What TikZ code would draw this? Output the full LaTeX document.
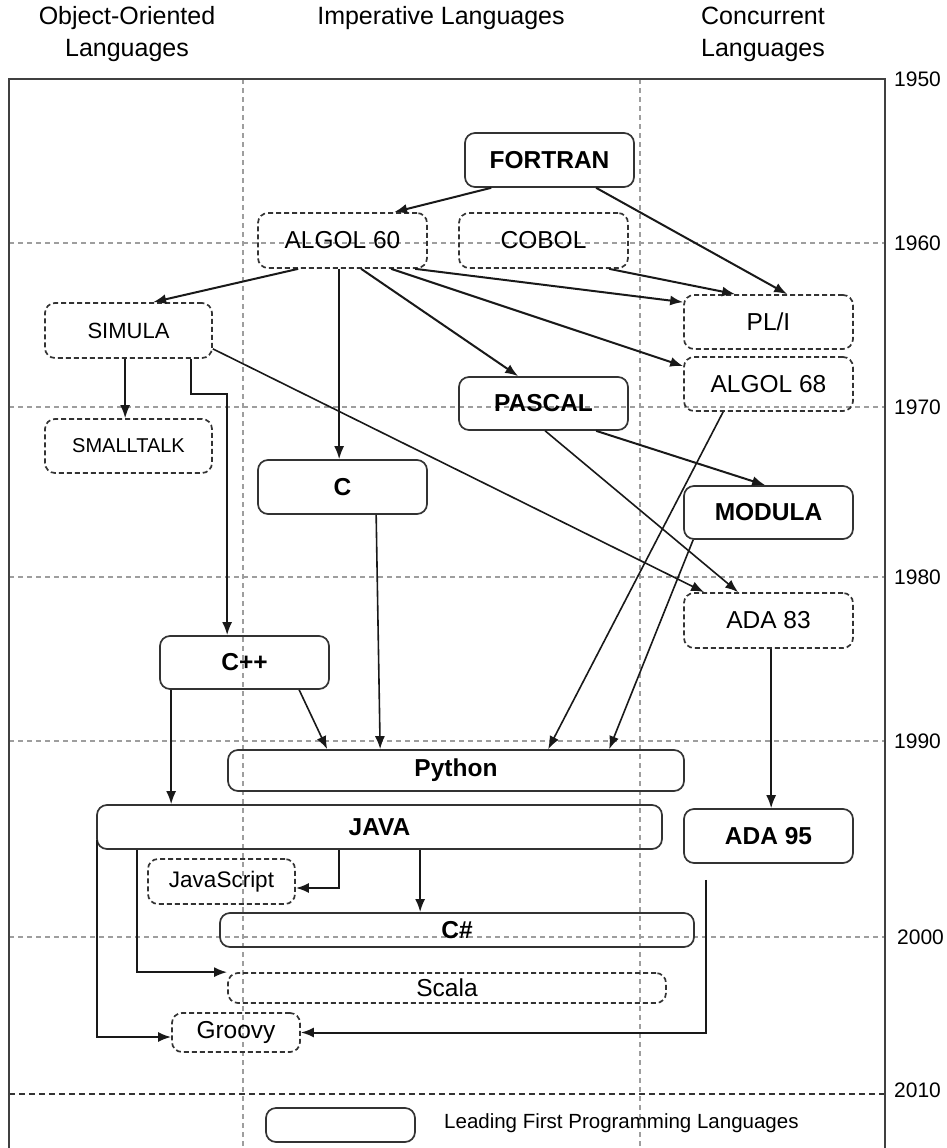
\documentclass[tikz,border=0pt]{standalone}
\usepackage{fontspec}
\setmainfont{Liberation Sans}
\usetikzlibrary{arrows.meta}
\begin{document}
\begin{tikzpicture}[x=1pt,y=-1pt,
  gridline/.style={draw=black!38, line width=1.5pt, dash pattern=on 5pt off 4pt},
  box/.style={rounded corners=10pt, draw=black!80, line width=1.7pt, inner sep=0pt},
  solidbox/.style={box, font=\bfseries\fontsize{24.5}{28}\selectfont},
  dashbox/.style={box, dash pattern=on 5pt off 3pt, font=\fontsize{24.5}{28}\selectfont},
  sz/.style 2 args={minimum width=#1pt, minimum height=#2pt},
  arr/.style={draw=black!90, line width=2pt, -{Latex[length=13pt,width=10pt]}},
  tarr/.style={draw=black!90, line width=1.6pt, -{Latex[length=13pt,width=10pt]}},
  title/.style={align=center, font=\fontsize{25}{32}\selectfont, inner sep=0pt},
  year/.style={anchor=west, font=\fontsize{21}{24}\selectfont, inner sep=0pt}]
\useasboundingbox (0,0) rectangle (946,1148);

% grid
\foreach \yy in {243,407,577,741,937} \draw[gridline] (9,\yy) -- (885,\yy);
\draw[gridline] (243,79) -- (243,1148);
\draw[gridline] (640,79) -- (640,1148);
\draw[draw=black!80, line width=1.7pt, dash pattern=on 6pt off 4pt] (9,1094) -- (885,1094);
\draw[draw=black!75, line width=1.7pt] (9,1148) -- (9,79) -- (885,79) -- (885,1148);

% titles
\node[title] (t1) at (127,34) {Object-Oriented\\Languages};
\node[title] (t2) at (441,18) {Imperative Languages};
\node[title] (t3) at (763,34) {Concurrent\\Languages};

% years
\node[year] (y1950) at (894,79) {1950};
\node[year] (y1960) at (894,243) {1960};
\node[year] (y1970) at (894,407) {1970};
\node[year] (y1980) at (894,577) {1980};
\node[year] (y1990) at (894,741) {1990};
\node[year] (y2000) at (897,937) {2000};
\node[year] (y2010) at (894,1090) {2010};

% languages
\node[solidbox, sz={169}{54}] (fortran) at (549.5,160) {FORTRAN};
\node[dashbox, sz={169}{55}] (algol60) at (342.5,240.5) {ALGOL 60};
\node[dashbox, sz={169}{55}] (cobol) at (543.5,240.5) {COBOL};
\node[dashbox, sz={167}{55}, font=\fontsize{22}{26}\selectfont] (simula) at (128.5,330.5) {SIMULA};
\node[dashbox, sz={169}{54}] (pli) at (768.5,322) {PL/I};
\node[dashbox, sz={169}{54}] (algol68) at (768.5,384) {ALGOL 68};
\node[solidbox, sz={169}{53}] (pascal) at (543.5,403.5) {PASCAL};
\node[dashbox, sz={167}{54}, font=\fontsize{20}{24}\selectfont] (smalltalk) at (128.5,446) {SMALLTALK};
\node[solidbox, sz={169}{54}] (c) at (342.5,487) {C};
\node[solidbox, sz={169}{53}] (modula) at (768.5,512.5) {MODULA};
\node[dashbox, sz={169}{55}] (ada83) at (768.5,620.5) {ADA 83};
\node[solidbox, sz={169}{53}] (cpp) at (244.5,662.5) {C++};
\node[solidbox, sz={456}{41}] (python) at (456,770.5) {Python};
\node[solidbox, sz={565}{44}] (java) at (379.5,827) {JAVA};
\node[solidbox, sz={169}{54}] (ada95) at (768.5,836) {ADA 95};
\node[dashbox, sz={147}{45}, font=\fontsize{22.5}{26}\selectfont] (js) at (221.5,881.5) {JavaScript};
\node[solidbox, sz={474}{34}] (csharp) at (457,930) {C\#};
\node[dashbox, sz={438}{30}] (scala) at (447,988) {Scala};
\node[dashbox, sz={128}{39}] (groovy) at (236,1032.5) {Groovy};

% legend
\node[solidbox, sz={149}{34}] (legbox) at (340.5,1125) {};
\node[anchor=west, inner sep=0pt, font=\fontsize{20.5}{24}\selectfont] (legtext) at (444,1123) {Leading First Programming Languages};

% connectors
\draw[arr] ([xshift=27pt]fortran.south west) -- ([xshift=137pt]algol60.north west);
\draw[arr] ([xshift=132pt]fortran.south west) -- ([xshift=104pt]pli.north west);
\draw[arr] ([xshift=151pt]cobol.south west) -- ([xshift=52pt]pli.north west);
\draw[arr] ([xshift=41pt]algol60.south west) -- ([xshift=109pt]simula.north west);
\draw[tarr] ([xshift=82pt]algol60.south west) -- ([xshift=82pt]c.north west);
\draw[arr] ([xshift=104pt]algol60.south west) -- ([xshift=60pt]pascal.north west);
\draw[arr] ([xshift=134pt]algol60.south west) -- ([yshift=-10pt]algol68.north west);
\draw[arr] ([xshift=158pt]algol60.south west) -- ([yshift=-8pt]pli.north west);
\draw[tarr] ([xshift=81pt]simula.south west) -- ([xshift=81pt]smalltalk.north west);
\draw[arr] ([xshift=147pt]simula.south west) -- ++(0,35) -| ([xshift=68pt]cpp.north west);
\draw[tarr] ([yshift=10pt]simula.south east) -- ([xshift=21pt]ada83.north west);
\draw[arr] ([xshift=138pt]pascal.south west) -- ([xshift=82pt]modula.north west);
\draw[tarr] ([xshift=87pt]pascal.south west) -- ([xshift=55pt]ada83.north west);
\draw[tarr] ([xshift=40pt]algol68.south west) -- ([xshift=321pt]python.north west);
\draw[tarr] ([xshift=10pt]modula.south west) -- ([xshift=382pt]python.north west);
\draw[tarr] ([xshift=119pt]c.south west) -- ([xshift=153pt]python.north west);
\draw[tarr] ([xshift=140pt]cpp.south west) -- ([xshift=100pt]python.north west);
\draw[tarr] ([xshift=12pt]cpp.south west) -- ([xshift=75pt]java.north west);
\draw[tarr] ([xshift=88pt]ada83.south west) -- ([xshift=88pt]ada95.north west);
\draw[arr] ([xshift=243pt]java.south west) |- ([yshift=-6.5pt]js.east);
\draw[arr] ([xshift=324pt]java.south west) -- ([xshift=201pt]csharp.north west);
\draw[arr] ([xshift=41pt]java.south west) |- (scala.north west);
\draw[arr] ([xshift=1pt,yshift=10pt]java.south west) |- ([yshift=-4.5pt]groovy.west);
\coordinate (adastart) at ([xshift=23pt,yshift=-16pt]ada95.south west);
\draw[arr] (adastart) |- (groovy.east);
\end{tikzpicture}
\end{document}
